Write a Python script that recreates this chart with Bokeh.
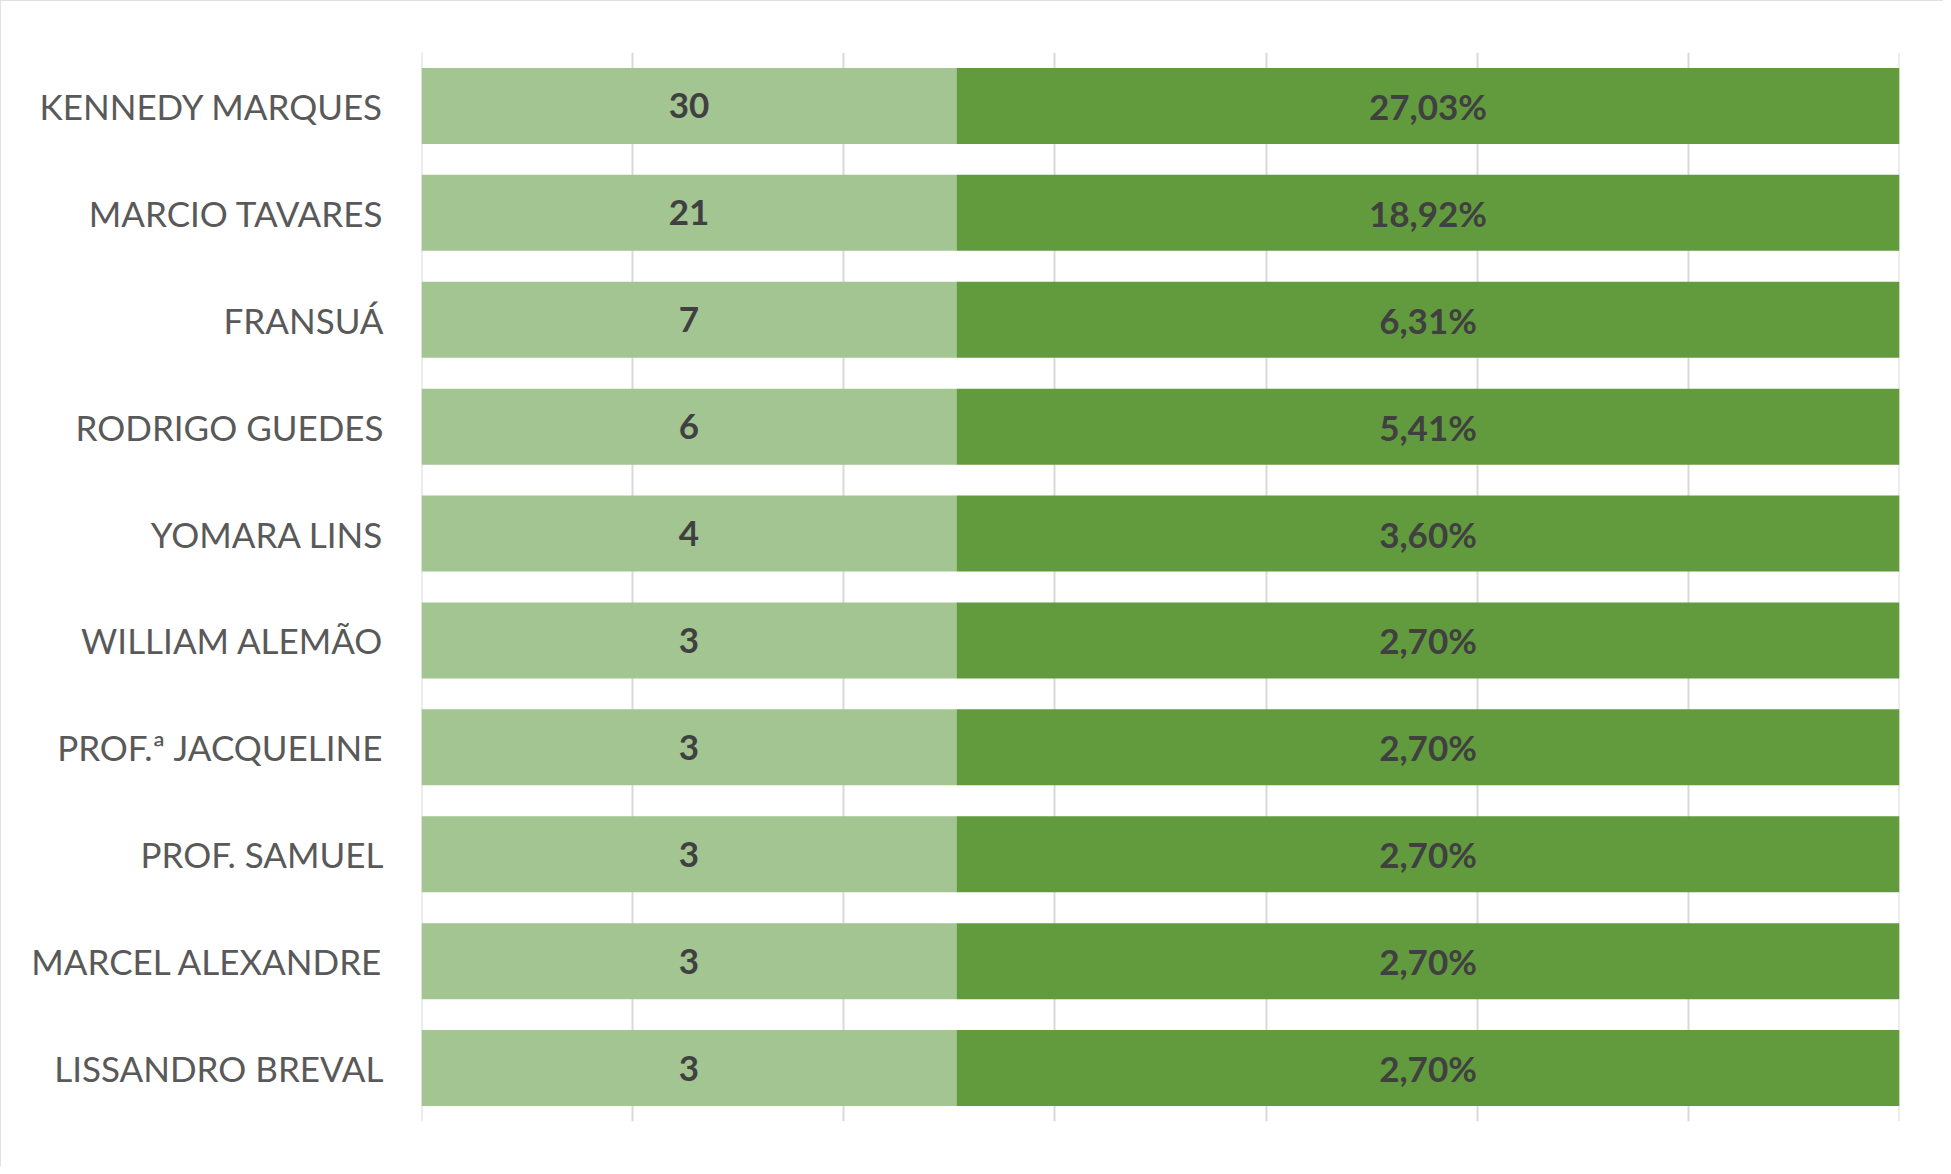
from bokeh.plotting import figure
from bokeh.models import ColumnDataSource, FactorRange, Range1d, FixedTicker, Span
from bokeh.core.properties import value
from bokeh.embed import file_html
from bokeh.resources import INLINE

# ---- data ----
names = ["KENNEDY MARQUES", "MARCIO TAVARES", "FRANSUÁ", "RODRIGO GUEDES",
         "YOMARA LINS", "WILLIAM ALEMÃO", "PROF.ª JACQUELINE", "PROF. SAMUEL",
         "MARCEL ALEXANDRE", "LISSANDRO BREVAL"]
counts = [30, 21, 7, 6, 4, 3, 3, 3, 3, 3]
pct_labels = ["27,03%", "18,92%", "6,31%", "5,41%", "3,60%",
              "2,70%", "2,70%", "2,70%", "2,70%", "2,70%"]
# share of the (100%-stacked) bar taken by the count series
count_share = [0.362, 0.362, 0.362, 0.362, 0.362, 0.362, 0.362, 0.362, 0.362, 0.362]
grid_ticks = [0, 1/7, 2/7, 3/7, 4/7, 5/7, 6/7, 1]

LIGHT = "#A2C592"
DARK = "#629A3E"
GRID = "#d9d9d9"
FONT = "Lato"

src = ColumnDataSource(dict(
    name=names,
    counts=[str(c) for c in counts],
    pct=pct_labels,
    share=count_share,
    one=[1.0] * len(names),
    c_mid=[s / 2 for s in count_share],
    p_mid=[(s + 1) / 2 for s in count_share],
))

p = figure(width=1943, height=1166, output_backend="svg", toolbar_location=None,
           y_range=FactorRange(factors=list(reversed(names)), range_padding=0),
           x_range=Range1d(0, 1))
p.min_border_left = 421
p.min_border_right = 1943 - 1899
p.min_border_top = 52
p.min_border_bottom = 1166 - 1121
p.outline_line_color = None
p.background_fill_color = "white"
p.border_fill_color = "white"
p.styles = {"outline": "2px solid #d9d9d9", "outline-offset": "-2px"}

for loc in (grid_ticks[0], grid_ticks[-1]):
    p.add_layout(Span(location=loc, dimension="height", line_color=GRID,
                      line_width=2, level="underlay"))

p.hbar(y="name", left=0, right="share", height=0.711, source=src,
       fill_color=LIGHT, line_color=None)
p.hbar(y="name", left="share", right="one", height=0.711, source=src,
       fill_color=DARK, line_color=None)

p.text(x="c_mid", y="name", text="counts", source=src, text_align="center",
       text_baseline="middle", text_font=value(FONT), text_font_style="bold",
       text_font_size="35px", text_color="#404040")
p.text(x="p_mid", y="name", text="pct", source=src, text_align="center",
       text_baseline="middle", text_font=value(FONT), text_font_style="bold",
       text_font_size="35px", text_color="#404040")

p.xaxis.visible = False
p.xgrid.ticker = FixedTicker(ticks=grid_ticks)
p.xgrid.grid_line_color = GRID
p.xgrid.grid_line_width = 2
p.ygrid.visible = False

ya = p.yaxis[0]
ya.axis_line_color = None
ya.major_tick_line_color = None
ya.minor_tick_line_color = None
ya.major_tick_out = 0
ya.major_tick_in = 0
ya.major_label_standoff = 38
ya.major_label_text_font = FONT
ya.major_label_text_font_size = "35px"
ya.major_label_text_color = "#595959"

open("out.html", "w").write(file_html(p, INLINE))
